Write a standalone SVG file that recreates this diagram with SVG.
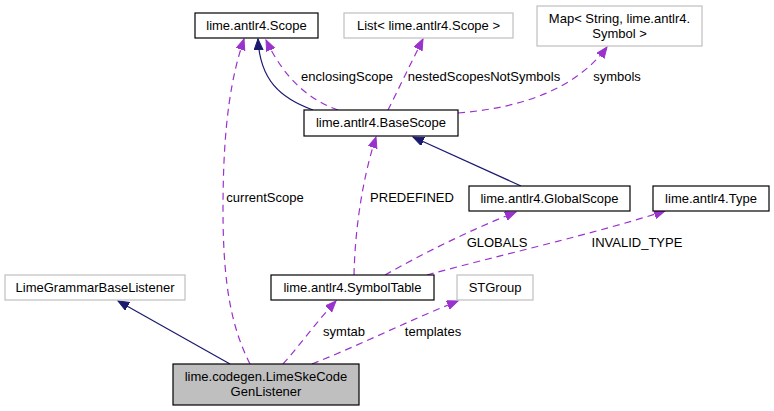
<svg xmlns="http://www.w3.org/2000/svg" width="774" height="411" viewBox="0 0 774 411">
<defs>
<style>
text{font-family:"Liberation Sans",Arial,sans-serif;font-size:13px;fill:#000;text-anchor:middle}
.n{fill:#fff;stroke:#000;stroke-width:1.2}
.x{fill:#fff;stroke:#bfbfbf;stroke-width:1.2}
.f{fill:#bfbfbf;stroke:#000;stroke-width:1.2}
.inh{fill:none;stroke:#191970;stroke-width:1.2;marker-end:url(#ai)}
.use{fill:none;stroke:#9a32cd;stroke-width:1.2;stroke-dasharray:7,5;marker-end:url(#au)}
</style>
<marker id="ai" markerUnits="userSpaceOnUse" markerWidth="12" markerHeight="10" refX="11" refY="4.5" orient="auto"><path d="M0,0 L11,4.5 L0,9 z" fill="#191970" stroke="#191970"/></marker>
<marker id="au" markerUnits="userSpaceOnUse" markerWidth="12" markerHeight="10" refX="11" refY="4.5" orient="auto"><path d="M0,0 L11,4.5 L0,9 z" fill="#9a32cd" stroke="#9a32cd"/></marker>
</defs>
<rect width="774" height="411" fill="#fff"/>
<g id="edges">
<path class="inh" d="M230,364 L118,301"/>
<path class="use" d="M250,364 C233,330 223,290 223,210 C223,120 232,75 244,39"/>
<path class="use" d="M283,364 C300,345 318,320 336,301"/>
<path class="use" d="M312,364 C360,345 410,320 458,301"/>
<path class="use" d="M354,275 C355,230 362,180 376,137"/>
<path class="use" d="M385,275 C420,255 470,230 516,212"/>
<path class="use" d="M427,275 C500,255 590,235 665,211"/>
<path class="inh" d="M313,110 C280,98 260,80 258,39"/>
<path class="use" d="M338,110 C310,100 285,80 266,40"/>
<path class="use" d="M388,110 C398,90 410,65 423,39"/>
<path class="use" d="M458,113 C520,108 575,90 607,47"/>
<path class="inh" d="M521,186 L413,137"/>
<text x="347" y="81">enclosingScope</text>
<text x="484" y="81">nestedScopesNotSymbols</text>
<text x="617" y="81">symbols</text>
<text x="265" y="202">currentScope</text>
<text x="412" y="202">PREDEFINED</text>
<text x="497" y="247">GLOBALS</text>
<text x="637" y="247">INVALID_TYPE</text>
<text x="344" y="336">symtab</text>
<text x="433" y="336">templates</text>
</g>
<g id="scope"><rect class="n" x="195" y="13" width="123" height="25"/><text x="256.5" y="30">lime.antlr4.Scope</text></g>
<g id="list"><rect class="x" x="344" y="13" width="169" height="25"/><text x="428.5" y="30">List&lt; lime.antlr4.Scope &gt;</text></g>
<g id="map"><rect class="x" x="537" y="6" width="165" height="40"/><text x="619.5" y="23">Map&lt; String, lime.antlr4.</text><text x="619.5" y="38">Symbol &gt;</text></g>
<g id="basescope"><rect class="n" x="304" y="110" width="154" height="26"/><text x="381" y="127">lime.antlr4.BaseScope</text></g>
<g id="globalscope"><rect class="n" x="469" y="186" width="161" height="25"/><text x="549.5" y="203">lime.antlr4.GlobalScope</text></g>
<g id="type"><rect class="n" x="653" y="186" width="116" height="25"/><text x="711" y="203">lime.antlr4.Type</text></g>
<g id="symboltable"><rect class="n" x="271" y="275" width="163" height="25"/><text x="352.5" y="292">lime.antlr4.SymbolTable</text></g>
<g id="stgroup"><rect class="x" x="457" y="275" width="76" height="25"/><text x="495" y="292">STGroup</text></g>
<g id="basel"><rect class="x" x="5" y="275" width="180" height="25"/><text x="95" y="292">LimeGrammarBaseListener</text></g>
<g id="main"><rect class="f" x="173" y="364" width="186" height="41"/><text x="266" y="381">lime.codegen.LimeSkeCode</text><text x="266" y="396">GenListener</text></g>
</svg>
